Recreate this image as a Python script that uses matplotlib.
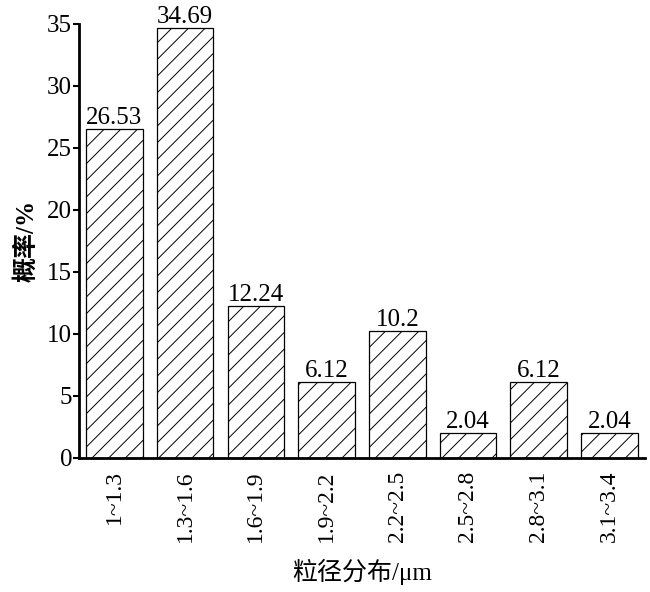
import matplotlib.pyplot as plt

plt.rcParams['font.family'] = ['Liberation Serif', 'Noto Sans CJK SC']
plt.rcParams['hatch.linewidth'] = 0.7

categories = ["1~1.3", "1.3~1.6", "1.6~1.9", "1.9~2.2",
              "2.2~2.5", "2.5~2.8", "2.8~3.1", "3.1~3.4"]
values = [26.53, 34.69, 12.24, 6.12, 10.2, 2.04, 6.12, 2.04]
value_labels = ["26.53", "34.69", "12.24", "6.12", "10.2", "2.04", "6.12", "2.04"]


def main():
    fig = plt.figure(figsize=(6.5, 5.92), dpi=100)
    ax = fig.add_axes([0.1215, 0.2264, 0.8705, 0.7331])

    x = range(len(categories))
    bars = ax.bar(x, values, width=0.8, color="white", edgecolor="black",
                  linewidth=0.9, hatch="//")
    for b, lab in zip(bars, value_labels):
        ax.annotate(lab, (b.get_x() + b.get_width() / 2, b.get_height()),
                    xytext=(0, 0), textcoords="offset points",
                    ha="center", va="bottom", fontsize=18)

    ax.set_xlim(-0.5, 7.5)
    ax.set_ylim(0, 35)
    ax.set_yticks(range(0, 36, 5))
    ax.set_xticks(list(x))
    ax.set_xticklabels(categories, rotation=90, fontsize=17)
    ax.tick_params(axis="y", labelsize=18, direction="out", length=4, width=1.5, pad=1)
    ax.tick_params(axis="x", length=0, pad=9)

    for s in ["top", "right"]:
        ax.spines[s].set_visible(False)
    ax.spines["left"].set_linewidth(2)
    ax.spines["bottom"].set_linewidth(2)

    ax.set_ylabel("概率/%", fontsize=18, fontweight="bold", labelpad=6)
    ax.set_xlabel("粒径分布/μm", fontsize=18, labelpad=12)

    fig.savefig("out.png", dpi=100)


if __name__ == "__main__":
    main()
